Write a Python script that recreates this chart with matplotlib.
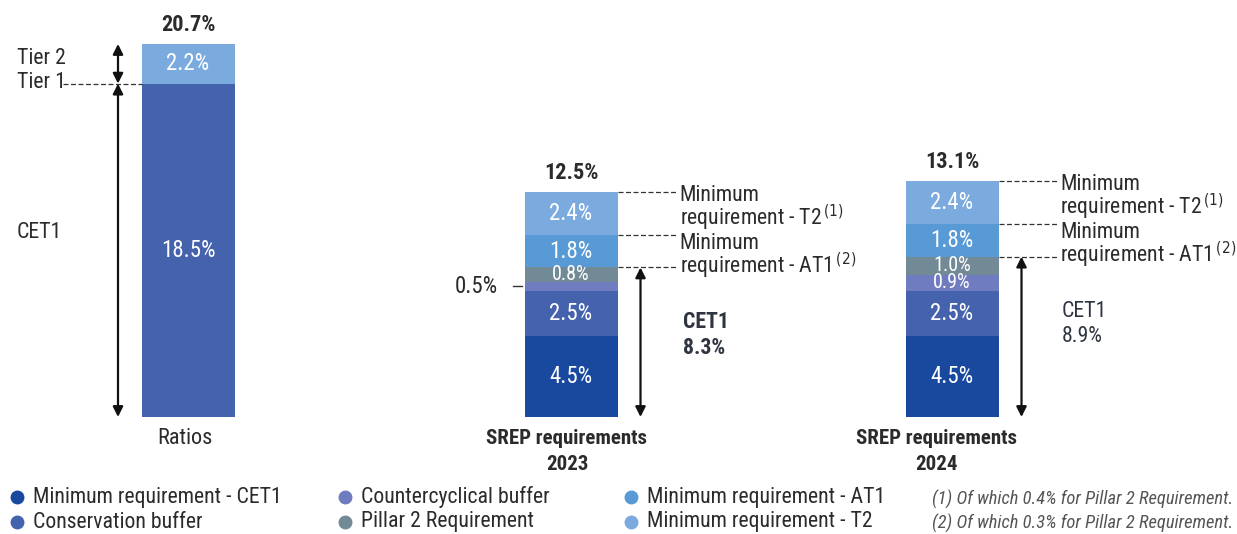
import numpy as np
import matplotlib
matplotlib.use("Agg")
import matplotlib.pyplot as plt
import matplotlib.transforms as mtransforms

plt.rcParams["font.family"] = ["Roboto Condensed", "Roboto", "DejaVu Sans"]
plt.rcParams["font.stretch"] = "condensed"

# data
ratio_cet1 = 18.5
ratio_tier2 = 2.2
segments = ["Minimum requirement - CET1", "Conservation buffer", "Countercyclical buffer",
            "Pillar 2 Requirement", "Minimum requirement - AT1", "Minimum requirement - T2"]
srep_2023 = [4.5, 2.5, 0.5, 0.8, 1.8, 2.4]
srep_2024 = [4.5, 2.5, 0.9, 1.0, 1.8, 2.4]
cet1_2023 = 8.3
cet1_2024 = 8.9
footnotes = ["(1) Of which 0.4% for Pillar 2 Requirement.", "(2) Of which 0.3% for Pillar 2 Requirement."]

colors = ["#18499e", "#4562ac", "#6f7cbf", "#728a96", "#589ad6", "#7aaade"]
text_dark = "#2b2b2b"
fs = 15.7

W, H = 1237, 534
fig = plt.figure(figsize=(W / 100, H / 100), dpi=100)
ax = fig.add_axes([0, 0, 1, 1])
scale = 18.02  # px per percent
base = 417
ax.set_xlim(0, W)
ax.set_ylim(-(H - base) / scale, base / scale)
ax.axis("off")
# top-left pixel coordinates for the layout texts
pix = mtransforms.Affine2D().scale(1 / W, -1 / H).translate(0, 1) + fig.transFigure

bw = 93
x_ratio, x23, x24 = 188, 571, 952

# Ratios bar
ax.bar(x_ratio, ratio_cet1, bw, color=colors[1])
ax.bar(x_ratio, ratio_tier2, bw, bottom=ratio_cet1, color=colors[5])
ax.text(x_ratio, ratio_cet1 / 2, f"{ratio_cet1}%", color="white", ha="center", va="center", fontsize=16.5)
ax.text(x_ratio, ratio_cet1 + ratio_tier2 / 2, f"{ratio_tier2}%", color="white", ha="center", va="center",
        fontsize=16.5)
tot_r = ratio_cet1 + ratio_tier2
ax.text(x_ratio, tot_r + 0.45, f"{tot_r:.1f}%", ha="center", va="bottom", fontsize=16, fontweight="bold",
        color=text_dark)

arrow = dict(arrowstyle="<|-|>", color="#111111", lw=1.6, mutation_scale=15, shrinkA=0, shrinkB=0)
ax.annotate("", xy=(118, 0), xytext=(118, ratio_cet1), arrowprops=arrow)
ax.annotate("", xy=(118, ratio_cet1), xytext=(118, tot_r), arrowprops=arrow)
ax.plot([63, x_ratio - bw / 2], [ratio_cet1, ratio_cet1], ls=(0, (4, 2)), color="#333333", lw=0.9)
ax.text(17, 58, "Tier 2", fontsize=fs, va="center", color=text_dark, transform=pix)
ax.text(17, 82, "Tier 1", fontsize=fs, va="center", color=text_dark, transform=pix)
ax.text(17, 233, "CET1", fontsize=fs, va="center", color=text_dark, transform=pix)
ax.text(185, 438, "Ratios", fontsize=16, ha="center", va="center", color=text_dark, transform=pix)


def srep(xc, vals, cet1, year, xlab, bold_cet1):
    bottoms = np.concatenate([[0], np.cumsum(vals)[:-1]])
    for v, b, c in zip(vals, bottoms, colors):
        ax.bar(xc, v, bw, bottom=b, color=c)
    for v, b in zip(vals, bottoms):
        if v < 0.6:
            ax.plot([xc - bw / 2 - 12, xc - bw / 2 - 3], [b + v / 2, b + v / 2], color="#333333", lw=1)
            ax.text(xc - bw / 2 - 27, b + v / 2, f"{v}%", ha="right", va="center", fontsize=16.5,
                    color=text_dark)
        else:
            small = v < 1.1
            ax.text(xc, b + v / 2, f"{v}%", ha="center", va="center",
                    fontsize=14.5 if small else 16.5, color="white")
    tot = sum(vals)
    ax.text(xc, tot + 0.45, f"{tot:.1f}%", ha="center", va="bottom", fontsize=16, fontweight="bold",
            color=text_dark)
    tops = np.cumsum(vals)
    xr = xc + bw / 2
    for lvl in [tops[5], tops[4], tops[3]]:
        ax.plot([xr, xr + 58], [lvl, lvl], ls=(0, (4, 2)), color="#333333", lw=0.9)
    ax.text(xr + 62, tops[5] - 0.95, "Minimum\nrequirement - T2$^{\\,(1)}$", fontsize=fs, va="center",
            color=text_dark, linespacing=0.85)
    ax.text(xr + 62, tops[4] - 1.2, "Minimum\nrequirement - AT1$^{\\,(2)}$", fontsize=fs, va="center",
            color=text_dark, linespacing=0.85)
    ax.annotate("", xy=(xr + 23, 0), xytext=(xr + 23, tops[3]), arrowprops=arrow)
    ax.text(xr + 63 + (2 if bold_cet1 else 0), cet1 - 3.75, f"CET1\n{cet1}%", fontsize=fs, va="center",
            color="#2e3440", fontweight="bold" if bold_cet1 else "normal", linespacing=1.25)
    ax.text(xlab, 438, "SREP requirements", fontsize=15, ha="center", va="center",
            fontweight="bold", color=text_dark, transform=pix)
    ax.text(xlab, 465, f"{year}", fontsize=15, ha="center", va="center",
            fontweight="bold", color=text_dark, transform=pix)


srep(x23, srep_2023, cet1_2023, 2023, 567, True)
srep(x24, srep_2024, cet1_2024, 2024, 937, False)

# legend
leg_pos = [(17, 497), (17, 522), (345, 497), (345, 522), (631, 497), (631, 522)]
for (lx, ly), name, c in zip(leg_pos, segments, colors):
    ax.plot([lx], [ly], "o", ms=9, color=c, transform=pix)
    ax.text(lx + 16, ly, name, fontsize=fs, va="center", color=text_dark, transform=pix)
for i, note in enumerate(footnotes):
    ax.text(932, 499 + 24 * i, note, fontsize=13.3, va="center", style="italic", color="#555555",
            transform=pix)

fig.savefig("out.png", dpi=100)
